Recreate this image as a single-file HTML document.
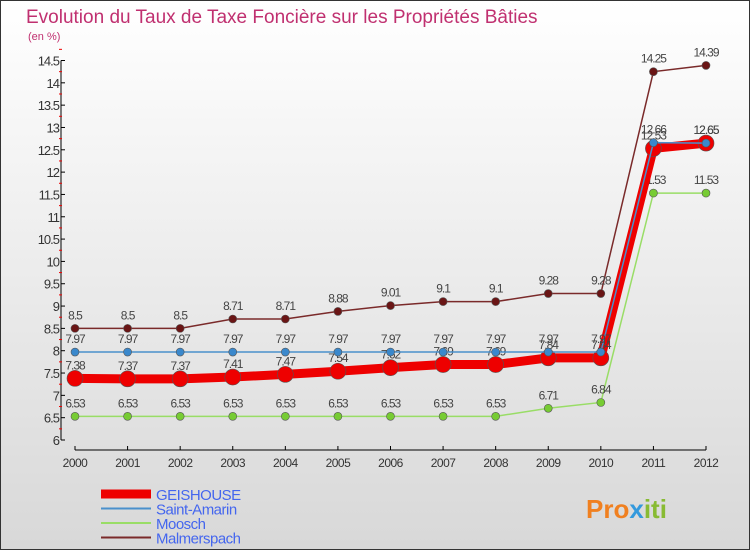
<!DOCTYPE html>
<html><head><meta charset="utf-8"><style>
body{margin:0;width:750px;height:550px;overflow:hidden;font-family:"Liberation Sans",sans-serif}
#wrap{position:relative;width:748px;height:548px;border:1px solid #333;background:linear-gradient(#fff,#d8d8d8)}
</style></head><body>
<div id="wrap">
<svg id="chart" width="748" height="548">
<text x="25" y="22" font-size="19" fill="#c03070">Evolution du Taux de Taxe Foncière sur les Propriétés Bâties</text>
<text x="27" y="39" font-size="11" fill="#c03070">(en %)</text>
<g id="axes"></g><g id="series"></g>
<g id="legend"></g>
<text x="585" y="517" font-size="26" font-weight="bold" fill="#f08020">Pro<tspan fill="#3399dd">x</tspan><tspan fill="#88bb33">iti</tspan></text>
</svg></div>
<script>
const years=[2000,2001,2002,2003,2004,2005,2006,2007,2008,2009,2010,2011,2012];
const yTicks=[6,6.5,7,7.5,8,8.5,9,9.5,10,10.5,11,11.5,12,12.5,13,13.5,14,14.5];
const geishouse=[7.38,7.37,7.37,7.41,7.47,7.54,7.62,7.69,7.69,7.84,7.84,12.53,12.65];
const saintAmarin=[7.97,7.97,7.97,7.97,7.97,7.97,7.97,7.97,7.97,7.97,7.97,12.66,12.65];
const moosch=[6.53,6.53,6.53,6.53,6.53,6.53,6.53,6.53,6.53,6.71,6.84,11.53,11.53];
const malmerspach=[8.5,8.5,8.5,8.71,8.71,8.88,9.01,9.1,9.1,9.28,9.28,14.25,14.39];
const NS='http://www.w3.org/2000/svg';
const X=i=>74+i*(705-74)/(years.length-1);
const Y=v=>439-(v-6)*(439-59.5)/8.5;
function mk(tag,at,parent,txt){const e=document.createElementNS(NS,tag);for(const k in at)e.setAttribute(k,at[k]);if(txt!==undefined)e.textContent=txt;parent.appendChild(e);return e;}
const ax=document.getElementById('axes');
let l=mk('line',{x1:60,y1:Y(14.5),x2:60,y2:Y(6),stroke:'#000'},ax);


yTicks.forEach(v=>{
 mk('line',{x1:60,y1:Y(v),x2:64,y2:Y(v),stroke:'#000'},ax);
 mk('line',{x1:58,y1:Y(v+0.25),x2:61,y2:Y(v+0.25),stroke:'#e00'},ax);
 const t=mk('text',{x:58,y:Y(v)+5,'text-anchor':'end','font-size':13,fill:'#333','letter-spacing':'-1'},ax,String(v));
 
 
});
l=mk('line',{x1:X(0),y1:449,x2:X(12),y2:449,stroke:'#000'},ax);


years.forEach((y,i)=>{
 mk('line',{x1:X(i),y1:445,x2:X(i),y2:449,stroke:'#000'},ax);
 const t=mk('text',{x:X(i),y:466,'text-anchor':'middle','font-size':12,fill:'#333','letter-spacing':'-0.5'},ax,String(y));
 
 
});
const sg=document.getElementById('series');
const series=[
 {name:'moosch',d:moosch,c:'#99dd66',f:'#77cc33',w:1.5,r:4},
 {name:'malmerspach',d:malmerspach,c:'#7a2a2a',f:'#6a1515',w:1.5,r:4},
 {name:'geishouse',d:geishouse,c:'#ee0000',f:'#ee0000',w:9,r:8},
 {name:'saint-amarin',d:saintAmarin,c:'#4a90cc',f:'#3a88cc',w:1.5,r:4}];
series.forEach(s=>{
 const p=mk('polyline',{points:s.d.map((v,i)=>X(i)+','+Y(v)).join(' '),fill:'none',stroke:s.c,'stroke-width':s.w},sg);
 
 
 s.d.forEach((v,i)=>{
  const c=mk('circle',{cx:X(i),cy:Y(v),r:s.r,fill:s.f,stroke:'#555','stroke-width':0.6},sg);
  
  
  const t=mk('text',{x:X(i),y:Y(v)-9,'text-anchor':'middle','font-size':12,fill:'#444','letter-spacing':'-1'},sg,String(v));
  
  
 });
});
const lg=document.getElementById('legend');
[['GEISHOUSE','#ee0000',9],['Saint-Amarin','#4a90cc',2],['Moosch','#99dd66',2],['Malmerspach','#7a2a2a',2]].forEach((e,i)=>{
 const y=493+i*14.5;
 mk('line',{x1:100,y1:y,x2:150,y2:y,stroke:e[1],'stroke-width':e[2]},lg);
 const t=mk('text',{x:155,y:y+6,'font-size':15,fill:'#4466ee','letter-spacing':'-0.5'},lg,e[0]);
 
 
});
</script></body></html>
